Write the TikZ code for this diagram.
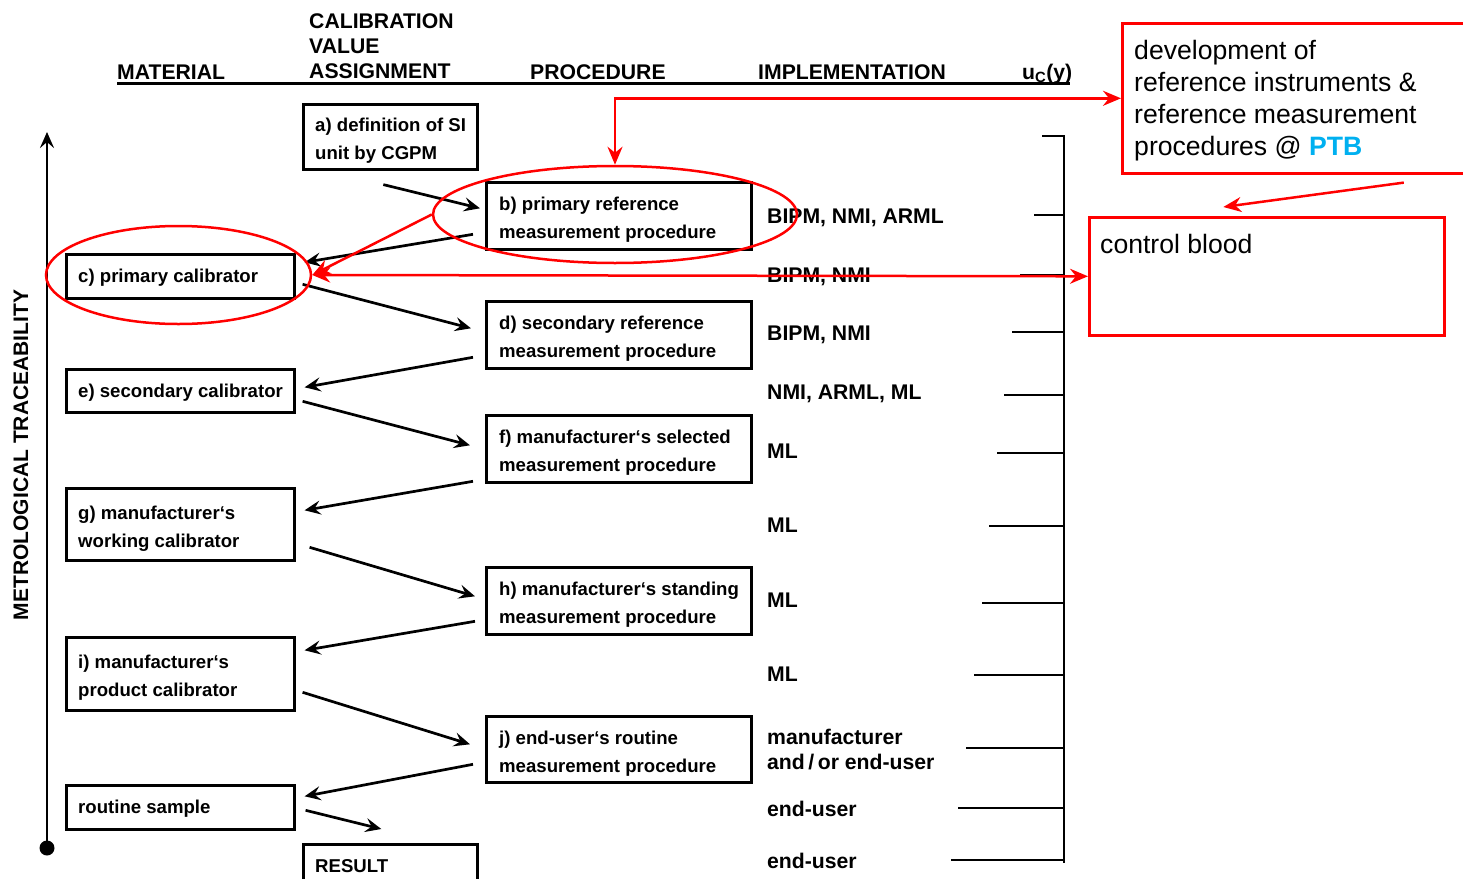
\documentclass[tikz,border=0pt]{standalone}
\usepackage{fontspec}
\setmainfont{Liberation Sans}
\usetikzlibrary{arrows.meta,shapes.geometric}
\begin{document}
\begin{tikzpicture}[x=1pt,y=-1pt,
  mbox/.style={draw, line width=2.6pt, anchor=north west, inner sep=0pt},
  btext/.style={font=\bfseries\fontsize{18.6}{28}\selectfont, align=left, anchor=west, inner sep=0pt},
  impl/.style={font=\bfseries\fontsize{21.2}{25}\selectfont, anchor=base west, inner sep=0pt},
  head/.style={font=\bfseries\fontsize{21.2}{25}\selectfont, anchor=base west, inner sep=0pt},
  arr/.style={line width=2.7pt, -{Stealth[length=16pt,width=14pt,inset=6pt]}},
  brk/.style={line width=2.6pt},
  redell/.style={draw=red, line width=2.5pt, ellipse, inner sep=0pt},
  redbox/.style={draw=red, line width=2.6pt, anchor=north west, inner sep=0pt},
  redarr/.style={draw=red, line width=2.5pt, -{Stealth[length=18pt,width=15pt,inset=6pt]}},
  redboth/.style={draw=red, line width=2.5pt, {Stealth[length=18pt,width=15pt,inset=6pt]}-{Stealth[length=18pt,width=15pt,inset=6pt]}}
]
\useasboundingbox (0,0) rectangle (1463,878);
\clip (0,0) rectangle (1463,878);

% header
\node[head] (hmat) at (117,79) {MATERIAL};
\node[head] (hcal1) at (309,28) {CALIBRATION};
\node[head] (hcal2) at (309,53) {VALUE};
\node[head] (hcal3) at (309,78) {ASSIGNMENT};
\node[head] (hproc) at (530,79) {PROCEDURE};
\node[head] (himpl) at (758,79) {IMPLEMENTATION};
\node[head] (huc) at (1022,79) {u\textsubscript{C}(y)};
\draw[line width=3pt] (117,83) -- (1070,83);

% axis
\node[font=\bfseries\fontsize{21}{25}\selectfont, rotate=90, inner sep=0pt] (axlab) at (21,455) {METROLOGICAL TRACEABILITY};
\node[circle, fill=black, minimum size=15pt, inner sep=0pt] (dot) at (47,848) {};
\coordinate (axtop) at (47,132);
\draw[line width=2.7pt, -{Stealth[length=16pt,width=14pt,inset=6pt]}] (dot.center) -- (axtop);

% boxes
\node[mbox, minimum width=174pt, minimum height=65pt] (a) at (302,103) {};
\node[btext] (ta) at ([xshift=13pt,yshift=-4pt]a.west) {a) definition of SI\\unit by CGPM};
\node[mbox, minimum width=265pt, minimum height=67pt] (b) at (485,181) {};
\node[btext] (tb) at ([xshift=14pt,yshift=-4pt]b.west) {b) primary reference\\measurement procedure};
\node[mbox, minimum width=228pt, minimum height=44pt] (c) at (65,253) {};
\node[btext] (tc) at ([xshift=13pt,yshift=-1.5pt]c.west) {c) primary calibrator};
\node[mbox, minimum width=265pt, minimum height=67pt] (d) at (485,300) {};
\node[btext] (td) at ([xshift=14pt,yshift=-4pt]d.west) {d) secondary reference\\measurement procedure};
\node[mbox, minimum width=228pt, minimum height=43pt] (e) at (65,368) {};
\node[btext] (te) at ([xshift=13pt,yshift=-1.5pt]e.west) {e) secondary calibrator};
\node[mbox, minimum width=265pt, minimum height=67pt] (f) at (485,414) {};
\node[btext] (tf) at ([xshift=14pt,yshift=-4pt]f.west) {f) manufacturer‘s selected\\measurement procedure};
\node[mbox, minimum width=228pt, minimum height=72pt] (g) at (65,487) {};
\node[btext] (tg) at ([xshift=13pt,yshift=-4pt]g.west) {g) manufacturer‘s\\working calibrator};
\node[mbox, minimum width=265pt, minimum height=67pt] (h) at (485,566) {};
\node[btext] (th) at ([xshift=14pt,yshift=-4pt]h.west) {h) manufacturer‘s standing\\measurement procedure};
\node[mbox, minimum width=228pt, minimum height=73pt] (i) at (65,636) {};
\node[btext] (ti) at ([xshift=13pt,yshift=-4pt]i.west) {i) manufacturer‘s\\product calibrator};
\node[mbox, minimum width=265pt, minimum height=66pt] (j) at (485,715) {};
\node[btext] (tj) at ([xshift=14pt,yshift=-4pt]j.west) {j) end-user‘s routine\\measurement procedure};
\node[mbox, minimum width=228pt, minimum height=44pt] (rs) at (65,784) {};
\node[btext] (trs) at ([xshift=13pt,yshift=-1.5pt]rs.west) {routine sample};
\node[mbox, minimum width=174pt, minimum height=52pt] (res) at (302,843) {};
\node[btext, anchor=base west] (tres) at ([xshift=13pt,yshift=-29pt]res.north west) {RESULT};

% black arrows
\draw[arr] ([xshift=-7pt,yshift=-14pt]a.south) -- ([xshift=-5pt,yshift=7.5pt]b.west);
\draw[arr] ([xshift=-12pt,yshift=-18.5pt]b.west) -- ([xshift=9pt,yshift=14pt]c.east);
\draw[arr] ([xshift=7pt,yshift=-8pt]c.east) -- ([xshift=-14pt,yshift=6.5pt]d.west);
\draw[arr] ([xshift=-12pt,yshift=-22.5pt]d.west) -- ([xshift=9pt,yshift=3.5pt]e.east);
\draw[arr] ([xshift=7pt,yshift=-10.5pt]e.east) -- ([xshift=-15pt,yshift=3.5pt]f.west);
\draw[arr] ([xshift=-12pt,yshift=-32.5pt]f.west) -- ([xshift=9pt,yshift=14pt]g.east);
\draw[arr] ([xshift=14pt,yshift=-23pt]g.east) -- ([xshift=-10pt,yshift=4.5pt]h.west);
\draw[arr] ([xshift=-10pt,yshift=-20.5pt]h.west) -- ([xshift=9pt,yshift=23.5pt]i.east);
\draw[arr] ([xshift=7pt,yshift=-18.5pt]i.east) -- ([xshift=-15pt,yshift=5pt]j.west);
\draw[arr] ([xshift=-12pt,yshift=-15pt]j.west) -- ([xshift=9pt,yshift=11pt]rs.east);
\draw[arr] ([xshift=10pt,yshift=-3pt]rs.east) -- ([xshift=-9pt,yshift=14pt]res.north);

% implementation
\node[impl] (l1) at (767,223) {BIPM, NMI, ARML};
\node[impl] (l2) at (767,282) {BIPM, NMI};
\node[impl] (l3) at (767,340) {BIPM, NMI};
\node[impl] (l4) at (767,399) {NMI, ARML, ML};
\node[impl] (l5) at (767,458) {ML};
\node[impl] (l6) at (767,532) {ML};
\node[impl] (l7) at (767,607) {ML};
\node[impl] (l8) at (767,681) {ML};
\node[impl] (l9) at (767,744) {manufacturer};
\node[impl] (l10) at (767,769) {and\,/\,or end-user};
\node[impl] (l11) at (767,816) {end-user};
\node[impl] (l12) at (767,868) {end-user};

% bracket
\draw[brk] (1064,136) -- (1064,863);
\foreach \y/\x in {136/1042,215/1034,275/1020,332/1012,395/1004,453/997,526/989,603/982,675/974,748/966,808/958,860/951}
  \draw[brk] (\x,\y) -- (1065.3,\y);

% red annotations
\node[redell, minimum width=364pt, minimum height=97pt] (eb) at (615,214.5) {};
\node[redell, minimum width=265pt, minimum height=98pt] (ec) at (178.5,275) {};
\node[redbox, minimum width=360pt, minimum height=150pt] (dev) at (1121,22) {};
\node[font=\fontsize{26.6}{32}\selectfont, align=left, anchor=west, inner sep=0pt] (tdev) at ([xshift=13pt,yshift=-2pt]dev.west)
  {development of\\reference instruments \&\\reference measurement\\procedures @ {\color[HTML]{00B0F0}\bfseries PTB}};
\node[redbox, minimum width=355pt, minimum height=118pt] (cb) at (1088,216) {};
\node[font=\fontsize{26.6}{32}\selectfont, anchor=base west, inner sep=0pt] (tcb) at ([xshift=12pt,yshift=-37pt]cb.north west) {control blood};

\draw[redarr] (eb.west) -- (ec.east);
\draw[redboth] (ec.east) -- (cb.west);
\draw[redboth] (eb.north) |- (dev.west);
\draw[redarr] ([xshift=101.5pt,yshift=-8pt]dev.south) -- ([xshift=-43.5pt,yshift=9pt]cb.north);
\end{tikzpicture}
\end{document}
